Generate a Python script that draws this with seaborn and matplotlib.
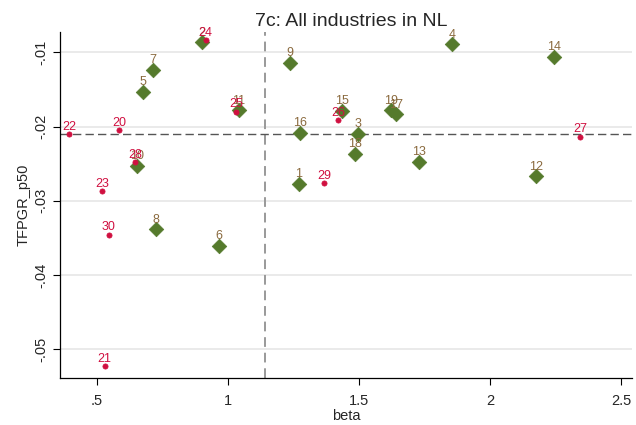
import pandas as pd
import matplotlib
matplotlib.use("Agg")
import matplotlib.pyplot as plt
import seaborn as sns

# Industries 1-19 (green diamonds)
green_ids = list(range(1, 20))
green_beta = [1.270, 0.902, 1.496, 1.854, 0.674, 0.964, 0.715, 0.726, 1.238, 0.652,
              1.042, 2.175, 1.728, 2.244, 1.436, 1.275, 1.640, 1.484, 1.622]
green_tfp = [-0.02772, -0.00865, -0.0210, -0.00892, -0.01530, -0.03603, -0.01238, -0.03382, -0.01144, -0.02526,
             -0.01777, -0.02669, -0.02476, -0.01063, -0.01786, -0.02082, -0.01834, -0.02365, -0.01777]

# Industries 20-30 (red dots)
red_ids = list(range(20, 31))
red_beta = [0.584, 0.530, 0.394, 0.520, 0.915, 1.030, 1.421, 2.344, 0.645, 1.366, 0.545]
red_tfp = [-0.02050, -0.05226, -0.0210, -0.02871, -0.00834, -0.0180, -0.01915, -0.02136, -0.02480, -0.02759, -0.03455]

# reference lines
beta_mean = 1.142
tfp_mean = -0.02104

green_df = pd.DataFrame({"beta": green_beta, "TFPGR_p50": green_tfp, "id": green_ids})
red_df = pd.DataFrame({"beta": red_beta, "TFPGR_p50": red_tfp, "id": red_ids})

sns.set_style("white")
plt.rcParams["font.family"] = ["Liberation Sans", "DejaVu Sans"]

fig = plt.figure(figsize=(6.36, 4.25), dpi=100)
ax = fig.add_axes([0.0943, 0.1099, 0.8994, 0.8155])

green_c = "#557A2C"
label_c = "#8A6A3E"
red_c = "#D01040"

for v in [-0.05, -0.04, -0.03, -0.02, -0.01]:
    ax.axhline(v, color="#E6E6E6", lw=1.2, zorder=0)

ax.axvline(beta_mean, color="#999999", lw=1.4, ls=(0, (5, 3)), zorder=1)
ax.axhline(tfp_mean, color="#555555", lw=1.0, ls=(0, (6, 3)), zorder=1)

sns.scatterplot(data=green_df, x="beta", y="TFPGR_p50", marker="D", s=55,
                color=green_c, edgecolor=green_c, linewidth=0.5, ax=ax, zorder=3)
for b, t, i in zip(green_beta, green_tfp, green_ids):
    ax.annotate(str(i), (b, t), xytext=(0, 2.5),
                textcoords="offset points", ha="center", va="bottom",
                fontsize=9, color=label_c, zorder=4)

sns.scatterplot(data=red_df, x="beta", y="TFPGR_p50", marker="o", s=14,
                color=red_c, edgecolor=red_c, linewidth=0.5, ax=ax, zorder=3)
for b, t, i in zip(red_beta, red_tfp, red_ids):
    ax.annotate(str(i), (b, t), xytext=(0, 1),
                textcoords="offset points", ha="center", va="bottom",
                fontsize=9, color=red_c, zorder=5)

ax.set_xlim(0.359, 2.542)
ax.set_ylim(-0.0539, -0.00723)
ax.set_xticks([0.5, 1, 1.5, 2, 2.5])
ax.set_xticklabels([".5", "1", "1.5", "2", "2.5"])
ax.set_yticks([-0.05, -0.04, -0.03, -0.02, -0.01])
ax.set_yticklabels(["-.05", "-.04", "-.03", "-.02", "-.01"], rotation=90, va="center")
ax.tick_params(axis="both", direction="out", length=5, width=0.8, color="black",
               labelsize=10.5)
ax.tick_params(axis="x", bottom=True, pad=6)
ax.tick_params(axis="y", left=True, pad=3)

for side in ["top", "right"]:
    ax.spines[side].set_visible(False)
for side in ["left", "bottom"]:
    ax.spines[side].set_color("black")
    ax.spines[side].set_linewidth(0.9)

ax.set_xlabel("beta", fontsize=10.5, labelpad=1)
ax.set_ylabel("TFPGR_p50", fontsize=10.5, labelpad=3)
ax.set_title("7c: All industries in NL", fontsize=14, pad=4, x=0.51)

fig.savefig("out.png", dpi=100)
